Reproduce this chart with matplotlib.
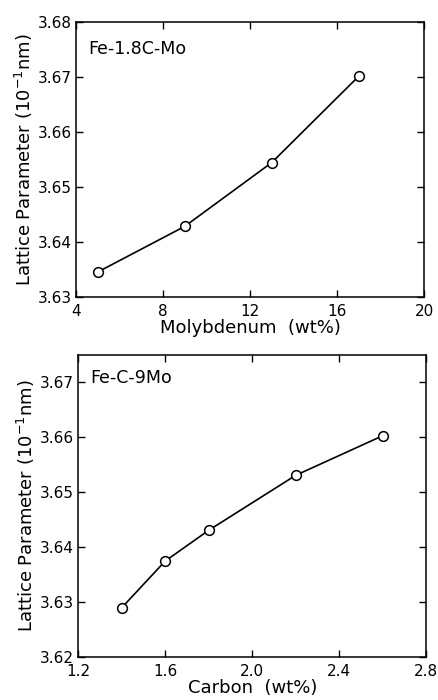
import matplotlib
matplotlib.use("Agg")
import matplotlib.pyplot as plt

mo_wt = [5, 9, 13, 17]
mo_lattice = [3.6345, 3.6428, 3.6544, 3.6701]

c_wt = [1.4, 1.6, 1.8, 2.2, 2.6]
c_lattice = [3.629, 3.6375, 3.6431, 3.6531, 3.6603]

top_xticks = [4, 8, 12, 16, 20]
top_yticks = [3.63, 3.64, 3.65, 3.66, 3.67, 3.68]
bot_xticks = [1.2, 1.6, 2.0, 2.4, 2.8]
bot_yticks = [3.62, 3.63, 3.64, 3.65, 3.66, 3.67]

plt.rcParams['font.family'] = ['DejaVu Sans']
fig = plt.figure(figsize=(4.39, 7.00), dpi=100)

ax1 = fig.add_axes([0.173, 0.576, 0.793, 0.393])
ax2 = fig.add_axes([0.178, 0.061, 0.793, 0.432])

ylabel = r'Lattice Parameter (10$^{-1}$nm)'

def style(ax):
    ax.tick_params(direction='in', top=True, right=True, length=5, width=1,
                   labelsize=11)
    ax.tick_params(axis='x', pad=5)
    ax.tick_params(axis='y', pad=3)
    for s in ax.spines.values():
        s.set_linewidth(1.1)

ax1.plot(mo_wt, mo_lattice, 'k-', lw=1.2, marker='o', ms=7, mfc='white', mec='black', mew=1.1)
ax1.set_xlim(4, 20)
ax1.set_ylim(3.63, 3.68)
ax1.set_xticks(top_xticks)
ax1.set_xticklabels([str(v) for v in top_xticks])
ax1.set_yticks(top_yticks)
ax1.set_yticklabels([f'{v:.2f}' for v in top_yticks])
ax1.set_xlabel('Molybdenum  (wt%)', fontsize=13, labelpad=0)
ax1.set_ylabel(ylabel, fontsize=13, labelpad=2)
ax1.text(0.035, 0.935, 'Fe-1.8C-Mo', transform=ax1.transAxes, fontsize=12.5, va='top')
style(ax1)

ax2.plot(c_wt, c_lattice, 'k-', lw=1.2, marker='o', ms=7, mfc='white', mec='black', mew=1.1)
ax2.set_xlim(1.2, 2.8)
ax2.set_ylim(3.62, 3.675)
ax2.set_xticks(bot_xticks)
ax2.set_xticklabels([f'{v:.1f}' for v in bot_xticks])
ax2.set_yticks(bot_yticks)
ax2.set_yticklabels([f'{v:.2f}' for v in bot_yticks])
ax2.set_xlabel('Carbon  (wt%)', fontsize=13, labelpad=0)
ax2.set_ylabel(ylabel, fontsize=13, labelpad=2)
ax2.text(0.035, 0.955, 'Fe-C-9Mo', transform=ax2.transAxes, fontsize=12.5, va='top')
style(ax2)

fig.savefig('out.png', dpi=100)
